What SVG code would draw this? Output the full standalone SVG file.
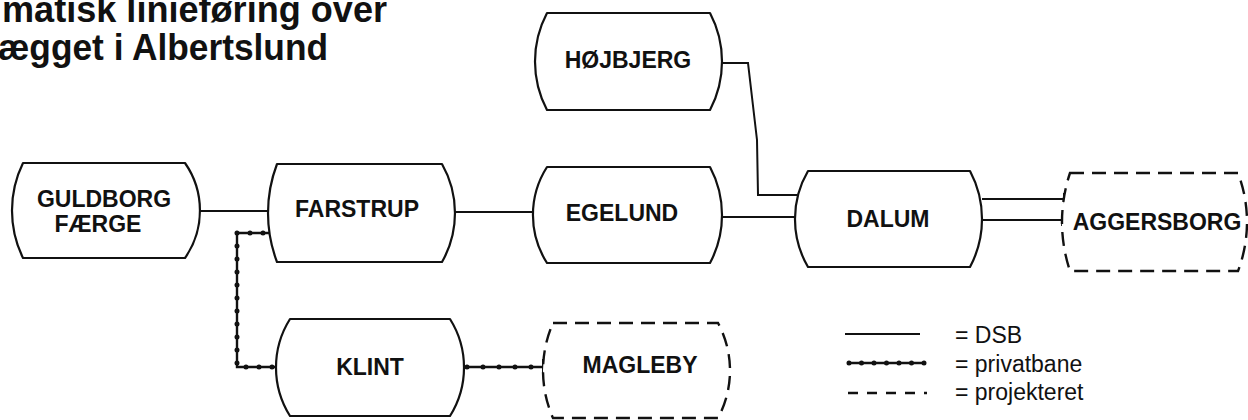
<svg xmlns="http://www.w3.org/2000/svg" width="1248" height="420" viewBox="0 0 1248 420">
  <style>
    .node { fill: #fff; stroke: #111; stroke-width: 2.2; stroke-linejoin: round; }
    .planned { fill: #fff; stroke: #111; stroke-width: 2.4; stroke-dasharray: 14 8; }
    .label { font-family: "Liberation Sans", Arial, sans-serif; font-weight: bold; font-size: 23px; fill: #111; text-anchor: middle; }
    .title { font-family: "Liberation Sans", Arial, sans-serif; font-weight: bold; font-size: 36px; fill: #111; }
    .legend { font-family: "Liberation Sans", Arial, sans-serif; font-size: 23px; fill: #111; }
    .dsb { fill: none; stroke: #111; stroke-width: 2; }
    .priv { fill: none; stroke: #111; stroke-width: 2.4; }
    .beads { fill: none; stroke: #111; stroke-width: 5; stroke-linecap: round; stroke-dasharray: 0 13; }
    .dash { fill: none; stroke: #111; stroke-width: 2.4; stroke-dasharray: 10 9; }
  </style>

  <rect width="1248" height="420" fill="#fff"/>

  <!-- heading -->
  <g id="title">
    <text class="title" x="2" y="22" textLength="385" lengthAdjust="spacingAndGlyphs">matisk linieføring over</text>
    <text class="title" x="-2" y="60" textLength="330" lengthAdjust="spacingAndGlyphs">ægget i Albertslund</text>
  </g>

  <!-- track lines -->
  <g id="connectors">
    <!-- DSB lines -->
    <line class="dsb" x1="200" y1="211" x2="269" y2="211"/>
    <line class="dsb" x1="455" y1="212" x2="534" y2="212"/>
    <line class="dsb" x1="722" y1="217" x2="796" y2="217"/>
    <polyline class="dsb" points="722,63 748,63 757,140 758,195 797,195"/>
    <!-- projected extension to Aggersborg -->
    <line class="dsb" x1="982" y1="199" x2="1064" y2="199"/>
    <line class="dsb" x1="1064" y1="193" x2="1064" y2="205"/>
    <line class="dsb" x1="982" y1="220" x2="1062" y2="220"/>
    <line class="dsb" x1="1062" y1="214" x2="1062" y2="226"/>
    <!-- private railway Farstrup - Klint -->
    <polyline class="priv" points="270,233 237,233 237,367 276,367"/>
    <path class="beads" d="M263,233 H237 V367 H276"/>
    <!-- private railway Klint - Magleby -->
    <line class="priv" x1="464" y1="367" x2="543" y2="367"/>
    <line class="beads" x1="467" y1="367" x2="535" y2="367" style="stroke-dasharray: 0 16"/>
    <line class="dsb" x1="543" y1="359" x2="543" y2="376"/>
  </g>

  <g id="n-guldborg">
    <path class="node" d="M23,163 H185 A83,83 0 0 1 185,258 H23 A108,108 0 0 1 23,163 Z"/>
    <text class="label" x="104" y="207">GULDBORG</text>
    <text class="label" x="98" y="232">FÆRGE</text>
  </g>

  <g id="n-farstrup">
    <path class="node" d="M277,164 H442 A99,99 0 0 1 442,262 H277 A138,138 0 0 1 277,164 Z"/>
    <text class="label" x="357" y="217">FARSTRUP</text>
  </g>

  <g id="n-egelund">
    <path class="node" d="M547,167 H710 A102,102 0 0 1 710,263 H547 A89,89 0 0 1 547,167 Z"/>
    <text class="label" x="622" y="221">EGELUND</text>
  </g>

  <g id="n-hojbjerg">
    <path class="node" d="M547,13 H710 A104,104 0 0 1 710,110 H547 A104,104 0 0 1 547,13 Z"/>
    <text class="label" x="628" y="68">HØJBJERG</text>
  </g>

  <g id="n-dalum">
    <path class="node" d="M808,171 H970 A102,102 0 0 1 970,267 H808 A95,95 0 0 1 808,171 Z"/>
    <text class="label" x="888" y="227">DALUM</text>
  </g>

  <g id="n-aggersborg">
    <path class="planned" d="M1070,173 H1238 A138,138 0 0 1 1238,271 H1070 A154,154 0 0 1 1070,173 Z"/>
    <text class="label" x="1157" y="230">AGGERSBORG</text>
  </g>

  <g id="n-klint">
    <path class="node" d="M290,319 H450 A91,91 0 0 1 450,416 H290 A91,91 0 0 1 290,319 Z"/>
    <text class="label" x="370" y="375">KLINT</text>
  </g>

  <g id="n-magleby">
    <path class="planned" d="M553,323 H718 A100,100 0 0 1 718,418 H553 A118,118 0 0 1 553,323 Z"/>
    <text class="label" x="640" y="373">MAGLEBY</text>
  </g>

  <!-- key -->
  <g id="legend">
    <line class="dsb" x1="845" y1="334" x2="920" y2="334"/>
    <line class="priv" x1="847" y1="363" x2="923" y2="363"/>
    <line class="beads" x1="849" y1="363" x2="925" y2="363" style="stroke-dasharray: 0 12.5"/>
    <line class="dash" x1="848" y1="393" x2="927" y2="393"/>
    <text class="legend" x="955" y="343">= DSB</text>
    <text class="legend" x="955" y="372">= privatbane</text>
    <text class="legend" x="955" y="400">= projekteret</text>
  </g>
</svg>
